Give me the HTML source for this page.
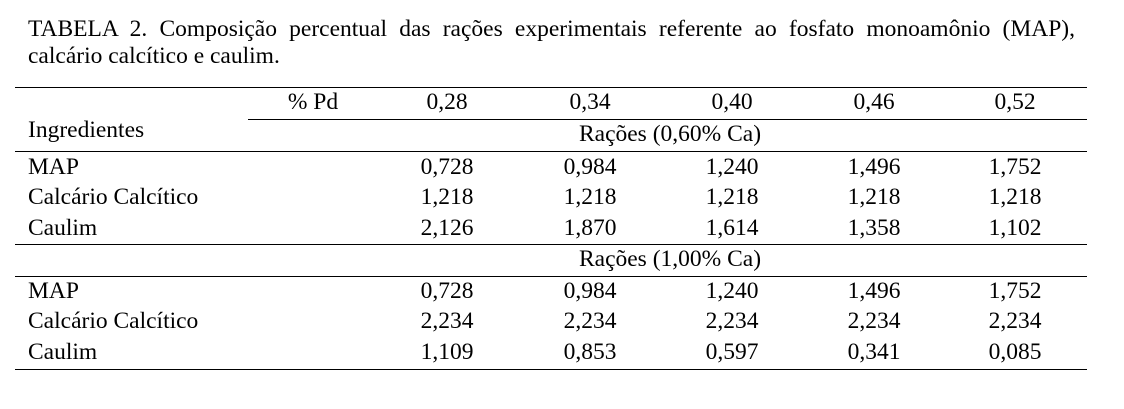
<!DOCTYPE html>
<html><head><meta charset="utf-8"><style>
body{margin:0;width:1124px;height:409px;background:#fff;position:relative;font-family:"Liberation Serif",serif;font-size:23.5px;color:#000;overflow:hidden}
.t{position:absolute;white-space:nowrap;line-height:1}
.c{transform:translateX(-50%)}
.ln{position:absolute;height:1px;background:#000}
.title{position:absolute;left:28px;width:1047px;line-height:1;white-space:nowrap}
#title1{text-align:justify;text-align-last:justify}
</style></head><body>
<div>
<div id="title1" class="title" style="top:18px">TABELA 2. Composição percentual das rações experimentais referente ao fosfato monoamônio (MAP),</div>
<div class="title" style="top:45px">calcário calcítico e caulim.</div>
</div>
<div class="ln" style="left:15px;top:87px;width:1072px"></div>
<div class="ln" style="left:248px;top:119px;width:839px"></div>
<div class="ln" style="left:15px;top:151px;width:1072px"></div>
<div class="ln" style="left:15px;top:244px;width:1072px"></div>
<div class="ln" style="left:15px;top:276px;width:1072px"></div>
<div class="ln" style="left:15px;top:369px;width:1072px"></div>
<script>
const pd=["% Pd","0,28","0,34","0,40","0,46","0,52"];
const rows1=[["MAP","0,728","0,984","1,240","1,496","1,752"],["Calcário Calcítico","1,218","1,218","1,218","1,218","1,218"],["Caulim","2,126","1,870","1,614","1,358","1,102"]];
const rows2=[["MAP","0,728","0,984","1,240","1,496","1,752"],["Calcário Calcítico","2,234","2,234","2,234","2,234","2,234"],["Caulim","1,109","0,853","0,597","0,341","0,085"]];
const cx=[313,447,590,732,874,1015];
const root=document.body;
function add(txt,x,y,center,name){
 const d=document.createElement('div');
 d.className='t'+(center?' c':'');
 d.style.left=x+'px';d.style.top=y+'px';d.textContent=txt;
 
 
 root.appendChild(d);
}
pd.forEach((p,i)=>add(p,cx[i],91,true,'header-pd-'+i));
add("Ingredientes",28,119,false,'ingredientes-label');
add("Rações (0,60% Ca)",670,123,true,'section-label-060');
add("Rações (1,00% Ca)",670,248,true,'section-label-100');
[[rows1,156],[rows2,280]].forEach(([rows,y0])=>{
 rows.forEach((r,j)=>{
  const y=y0+j*30.3;
  add(r[0],28,y,false,'row-label');
  for(let i=1;i<r.length;i++)add(r[i],cx[i],y,true,'cell-value');
 });
});
</script>
</body></html>
